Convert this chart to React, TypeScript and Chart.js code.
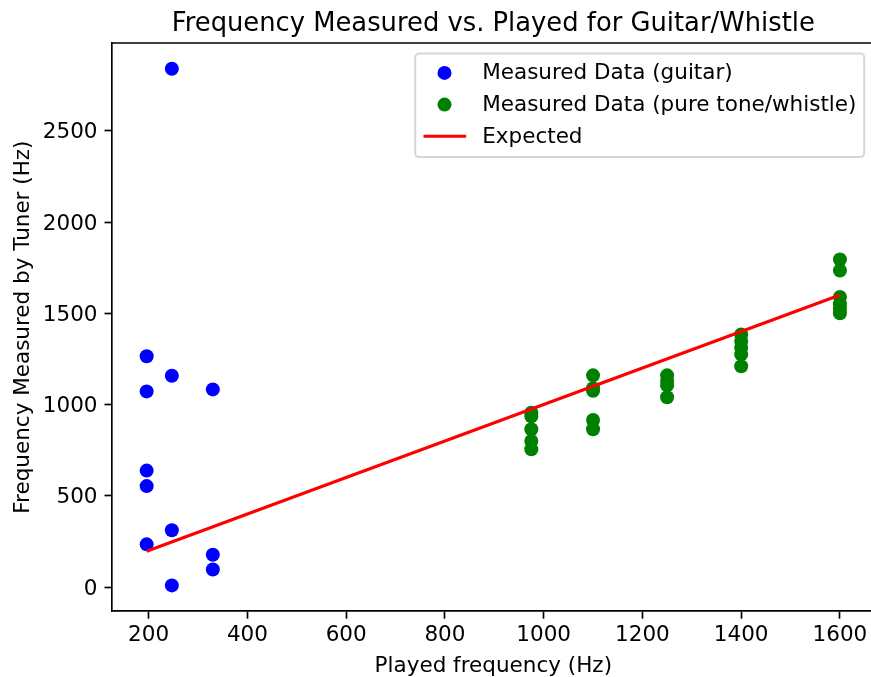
import React, { useEffect, useRef } from "react";
import { Chart, registerables } from "chart.js";

Chart.register(...registerables);

const FONT = "'DejaVu Sans', sans-serif";
const FS = 21.5;

const titleText = "Frequency Measured vs. Played for Guitar/Whistle";
const xLabel = "Played frequency (Hz)";
const yLabel = "Frequency Measured by Tuner (Hz)";
const legendLabels = [
  "Measured Data (guitar)",
  "Measured Data (pure tone/whistle)",
  "Expected",
];

const guitarPlayed = [196, 196, 196, 196, 196, 247, 247, 247, 247, 330, 330, 330];
const guitarMeasured = [1265, 1072, 638, 553, 234, 2840, 1158, 311, 9, 1083, 177, 96];

const whistlePlayed = [
  975, 975, 975, 975, 975,
  1100, 1100, 1100, 1100, 1100,
  1250, 1250, 1250, 1250,
  1400, 1400, 1400, 1400, 1400,
  1600, 1600, 1600, 1600, 1600, 1600,
];
const whistleMeasured = [
  955, 935, 865, 800, 755,
  1160, 1090, 1075, 915, 865,
  1160, 1130, 1105, 1040,
  1384, 1348, 1311, 1275, 1210,
  1795, 1735, 1590, 1550, 1525, 1500,
];

const expectedPlayed = [196, 1600];
const expectedMeasured = [196, 1600];

const xTicks = [200, 400, 600, 800, 1000, 1200, 1400, 1600];
const yTicks = [0, 500, 1000, 1500, 2000, 2500];

const BLUE = "#0000ff";
const GREEN = "#008000";
const RED = "#ff0000";

const toPoints = (xs: number[], ys: number[]) => xs.map((x, i) => ({ x, y: ys[i] }));

const overlayPlugin = {
  id: "overlay",
  afterDraw(chart: any) {
    const { ctx, chartArea: a } = chart;
    ctx.save();
    ctx.strokeStyle = "#000";
    ctx.lineWidth = 1.67;
    ctx.beginPath();
    ctx.moveTo(a.left, a.top);
    ctx.lineTo(a.right, a.top);
    ctx.lineTo(a.right, a.bottom);
    ctx.stroke();

    const cx = (a.left + a.right) / 2;
    ctx.fillStyle = "#000";
    ctx.textAlign = "center";
    ctx.textBaseline = "alphabetic";
    ctx.font = `25.8px ${FONT}`;
    ctx.fillText(titleText, cx, a.top - 12.5);

    ctx.font = `${FS}px ${FONT}`;
    ctx.fillText(xLabel, cx, 672);

    ctx.save();
    ctx.translate(29, (a.top + a.bottom) / 2);
    ctx.rotate(-Math.PI / 2);
    ctx.fillText(yLabel, 0, 0);
    ctx.restore();

    // legend
    const boxW = 449;
    const boxH = 103.5;
    const bx = a.right - 10.4 - boxW;
    const by = a.top + 10.6;
    const r = 4;
    ctx.beginPath();
    ctx.moveTo(bx + r, by);
    ctx.lineTo(bx + boxW - r, by);
    ctx.arcTo(bx + boxW, by, bx + boxW, by + r, r);
    ctx.lineTo(bx + boxW, by + boxH - r);
    ctx.arcTo(bx + boxW, by + boxH, bx + boxW - r, by + boxH, r);
    ctx.lineTo(bx + r, by + boxH);
    ctx.arcTo(bx, by + boxH, bx, by + boxH - r, r);
    ctx.lineTo(bx, by + r);
    ctx.arcTo(bx, by, bx + r, by, r);
    ctx.closePath();
    ctx.fillStyle = "rgba(255,255,255,0.8)";
    ctx.fill();
    ctx.strokeStyle = "rgba(204,204,204,0.8)";
    ctx.lineWidth = 2;
    ctx.stroke();

    const rows = [by + 19.3, by + 51, by + 82.7];
    const colors = [BLUE, GREEN, RED];
    rows.forEach((ry, i) => {
      if (i < 2) {
        ctx.beginPath();
        ctx.arc(bx + 29.3, ry, 7, 0, Math.PI * 2);
        ctx.fillStyle = colors[i];
        ctx.fill();
      } else {
        ctx.beginPath();
        ctx.moveTo(bx + 8.3, ry);
        ctx.lineTo(bx + 51, ry);
        ctx.strokeStyle = RED;
        ctx.lineWidth = 3.1;
        ctx.stroke();
      }
      ctx.fillStyle = "#000";
      ctx.textAlign = "left";
      ctx.textBaseline = "middle";
      ctx.font = `${FS}px ${FONT}`;
      ctx.fillText(legendLabels[i], bx + 67, ry + 1);
    });
    ctx.restore();
  },
};

export default function App() {
  const canvasRef = useRef<HTMLCanvasElement | null>(null);

  useEffect(() => {
    const canvas = canvasRef.current;
    if (!canvas) return;
    const tickFont = { family: FONT, size: FS };
    const fmt = (v: any) => String(v);
    const chart = new Chart(canvas, {
      type: "scatter",
      data: {
        datasets: [
          {
            label: legendLabels[2],
            data: toPoints(expectedPlayed, expectedMeasured),
            showLine: true,
            borderColor: RED,
            borderWidth: 3.1,
            pointRadius: 0,
            order: 0,
          },
          {
            label: legendLabels[1],
            data: toPoints(whistlePlayed, whistleMeasured),
            backgroundColor: GREEN,
            borderWidth: 0,
            pointRadius: 7,
            order: 1,
          },
          {
            label: legendLabels[0],
            data: toPoints(guitarPlayed, guitarMeasured),
            backgroundColor: BLUE,
            borderWidth: 0,
            pointRadius: 7,
            order: 2,
          },
        ],
      },
      options: {
        animation: false,
        responsive: false,
        devicePixelRatio: 1,
        layout: { padding: { top: 43, right: 25.4, left: 0, bottom: 0 } },
        plugins: {
          legend: { display: false },
          title: { display: false },
          tooltip: { enabled: false },
        },
        scales: {
          x: {
            type: "linear",
            min: 125.8,
            max: 1670.2,
            afterBuildTicks: (s: any) => {
              s.ticks = xTicks.map((v) => ({ value: v }));
            },
            afterFit: (s: any) => {
              s.height = 65.8;
            },
            grid: {
              display: true,
              drawOnChartArea: false,
              drawTicks: true,
              tickLength: 7.5,
              tickWidth: 1.67,
              tickColor: "#000",
            },
            border: { display: true, color: "#000", width: 1.67 },
            ticks: {
              font: tickFont,
              color: "#000",
              padding: 4,
              maxRotation: 0,
              autoSkip: false,
              callback: fmt,
            },
          },
          y: {
            type: "linear",
            min: -132.5,
            max: 2981.5,
            afterBuildTicks: (s: any) => {
              s.ticks = yTicks.map((v) => ({ value: v }));
            },
            afterFit: (s: any) => {
              s.width = 112;
            },
            grid: {
              display: true,
              drawOnChartArea: false,
              drawTicks: true,
              tickLength: 7.5,
              tickWidth: 1.67,
              tickColor: "#000",
            },
            border: { display: true, color: "#000", width: 1.67 },
            ticks: {
              font: tickFont,
              color: "#000",
              padding: 7,
              autoSkip: false,
              labelOffset: 2,
              callback: fmt,
            },
          },
        },
      },
      plugins: [overlayPlugin],
    });
    return () => chart.destroy();
  }, []);

  return (
    <div
      style={{
        position: "fixed",
        left: 0,
        top: 0,
        width: 871,
        height: 677,
        overflow: "hidden",
        background: "#fff",
      }}
    >
      <canvas ref={canvasRef} width={900} height={677} style={{ display: "block", width: 900, height: 677 }} />
    </div>
  );
}
